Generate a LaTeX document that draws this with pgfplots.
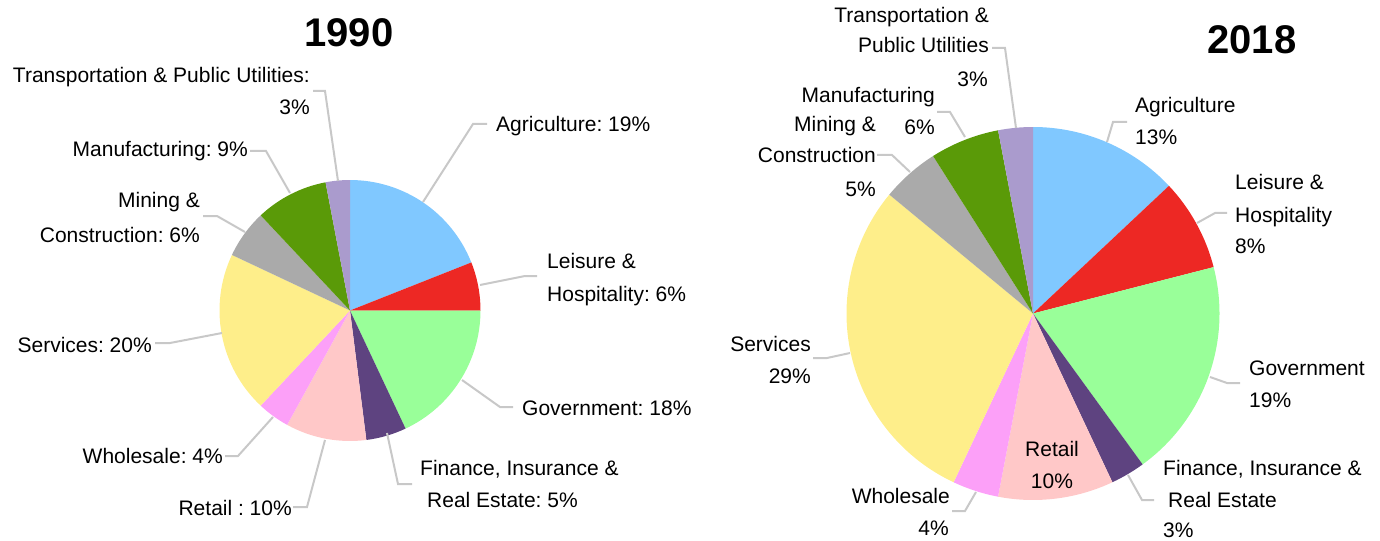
\documentclass[border=0pt]{standalone}
\usepackage{pgfplots}
\pgfplotsset{compat=1.18}
\usepackage{fontspec}
\setmainfont{Liberation Sans}
\frenchspacing

\definecolor{agri}{RGB}{128,200,255}
\definecolor{leis}{RGB}{237,40,36}
\definecolor{govt}{RGB}{153,255,153}
\definecolor{fire}{RGB}{94,67,128}
\definecolor{reta}{RGB}{255,200,200}
\definecolor{whol}{RGB}{252,160,248}
\definecolor{serv}{RGB}{254,238,138}
\definecolor{mine}{RGB}{170,170,170}
\definecolor{manu}{RGB}{90,154,8}
\definecolor{tpu}{RGB}{170,155,205}
\definecolor{lead}{RGB}{200,200,200}

% slices go clockwise from 12 o'clock; \slice{cx}{cy}{r}{percent}{colour}
\newcommand\resetpie{\gdef\piecum{0}}
\newcommand\slice[5]{%
  \pgfmathsetmacro\pa{90-3.6*\piecum}%
  \pgfmathsetmacro\pb{90-3.6*(\piecum+#4)}%
  \pgfmathsetmacro\pc{\piecum+#4}\global\let\piecum\pc
  \edef\tmp{\noexpand\fill[#5] (axis cs:#1,#2) -- +(\pa:#3bp)
    arc[start angle=\pa, end angle=\pb, radius=#3bp] -- cycle;}\tmp}
\newcommand\lbl{\fontsize{21bp}{25bp}\selectfont}

\begin{document}
\begin{tikzpicture}
\begin{axis}[width=1380bp, height=541bp, scale only axis,
  xmin=0, xmax=1380, ymin=0, ymax=541, y dir=reverse,
  hide axis, clip=false]
\path (axis cs:0,0) -- (axis cs:1380,541);

% 1990
\resetpie
\slice{350}{310.5}{130.5}{19}{agri}
\slice{350}{310.5}{130.5}{6}{leis}
\slice{350}{310.5}{130.5}{18}{govt}
\slice{350}{310.5}{130.5}{5}{fire}
\slice{350}{310.5}{130.5}{10}{reta}
\slice{350}{310.5}{130.5}{4}{whol}
\slice{350}{310.5}{130.5}{20}{serv}
\slice{350}{310.5}{130.5}{6}{mine}
\slice{350}{310.5}{130.5}{9}{manu}
\slice{350}{310.5}{130.5}{3}{tpu}

% 2018
\resetpie
\slice{1033}{313.5}{186.5}{13}{agri}
\slice{1033}{313.5}{186.5}{8}{leis}
\slice{1033}{313.5}{186.5}{19}{govt}
\slice{1033}{313.5}{186.5}{3}{fire}
\slice{1033}{313.5}{186.5}{10}{reta}
\slice{1033}{313.5}{186.5}{4}{whol}
\slice{1033}{313.5}{186.5}{29}{serv}
\slice{1033}{313.5}{186.5}{5}{mine}
\slice{1033}{313.5}{186.5}{6}{manu}
\slice{1033}{313.5}{186.5}{3}{tpu}

% titles
\node[anchor=base, font=\fontsize{40bp}{40bp}\selectfont\bfseries] at (axis cs:349,47) {1990};
\node[anchor=base, font=\fontsize{40bp}{40bp}\selectfont\bfseries] at (axis cs:1252,54) {2018};

% leader lines
\begin{scope}[draw=lead, line width=2bp]
\draw (axis cs:338,181) -- (axis cs:325,91) -- (axis cs:313,91);
\draw (axis cs:290,193) -- (axis cs:266,151) -- (axis cs:250,151);
\draw (axis cs:245,232) -- (axis cs:217,216) -- (axis cs:203,216);
\draw (axis cs:423,202) -- (axis cs:473,124) -- (axis cs:487,124);
\draw (axis cs:480,285) -- (axis cs:525,276) -- (axis cs:537,276);
\draw (axis cs:462,380) -- (axis cs:500,407) -- (axis cs:513,407);
\draw (axis cs:387,433) -- (axis cs:398,484) -- (axis cs:412,484);
\draw (axis cs:222,333) -- (axis cs:170,343) -- (axis cs:155,343);
\draw (axis cs:273,417) -- (axis cs:238,456) -- (axis cs:225,456);
\draw (axis cs:325,440) -- (axis cs:307,507) -- (axis cs:293,507);

\draw (axis cs:1016,128) -- (axis cs:1005,48) -- (axis cs:992,48);
\draw (axis cs:965,137) -- (axis cs:950,112) -- (axis cs:937,112);
\draw (axis cs:910,172) -- (axis cs:892,155) -- (axis cs:877,155);
\draw (axis cs:1107,142) -- (axis cs:1113,122) -- (axis cs:1127,122);
\draw (axis cs:1197,223) -- (axis cs:1215,213) -- (axis cs:1227,213);
\draw (axis cs:1210,377) -- (axis cs:1227,383) -- (axis cs:1240,383);
\draw (axis cs:1128,475) -- (axis cs:1142,500) -- (axis cs:1154,500);
\draw (axis cs:850,353) -- (axis cs:827,358) -- (axis cs:813,358);
\draw (axis cs:976,492) -- (axis cs:965,511) -- (axis cs:952,511);
\end{scope}

% labels 1990
\begin{scope}[every node/.style={font=\lbl, inner sep=0pt}]
\node[anchor=base east] at (axis cs:310,83) {Transportation \& Public Utilities:};
\node[anchor=base east] at (axis cs:310,115) {3\%};
\node[anchor=base east] at (axis cs:248,157) {Manufacturing: 9\%};
\node[anchor=base east] at (axis cs:200,208) {Mining \&};
\node[anchor=base east] at (axis cs:200,242) {Construction: 6\%};
\node[anchor=base west] at (axis cs:496,132) {Agriculture: 19\%};
\node[anchor=base west] at (axis cs:547,268) {Leisure \&};
\node[anchor=base west] at (axis cs:547,301) {Hospitality: 6\%};
\node[anchor=base west] at (axis cs:522,415) {Government: 18\%};
\node[anchor=base west] at (axis cs:420,475) {Finance, Insurance \&};
\node[anchor=base west] at (axis cs:427,507) {Real Estate: 5\%};
\node[anchor=base east] at (axis cs:152,352) {Services: 20\%};
\node[anchor=base east] at (axis cs:223,463) {Wholesale: 4\%};
\node[anchor=base east] at (axis cs:292,515) {Retail : 10\%};

% labels 2018
\node[anchor=base east] at (axis cs:989,23) {Transportation \&};
\node[anchor=base east] at (axis cs:989,53) {Public Utilities};
\node[anchor=base east] at (axis cs:988,87) {3\%};
\node[anchor=base east] at (axis cs:935,103) {Manufacturing};
\node[anchor=base east] at (axis cs:935,135) {6\%};
\node[anchor=base east] at (axis cs:876,132) {Mining \&};
\node[anchor=base east] at (axis cs:876,163) {Construction};
\node[anchor=base east] at (axis cs:876,197) {5\%};
\node[anchor=base west] at (axis cs:1135,113) {Agriculture};
\node[anchor=base west] at (axis cs:1135,145) {13\%};
\node[anchor=base west] at (axis cs:1235,190) {Leisure \&};
\node[anchor=base west] at (axis cs:1235,222) {Hospitality};
\node[anchor=base west] at (axis cs:1235,253) {8\%};
\node[anchor=base west] at (axis cs:1249,375) {Government};
\node[anchor=base west] at (axis cs:1249,407) {19\%};
\node[anchor=base west] at (axis cs:1163,475) {Finance, Insurance \&};
\node[anchor=base west] at (axis cs:1168,507) {Real Estate};
\node[anchor=base west] at (axis cs:1163,537) {3\%};
\node[anchor=base east] at (axis cs:811,351) {Services};
\node[anchor=base east] at (axis cs:811,383) {29\%};
\node[anchor=base east] at (axis cs:950,503) {Wholesale};
\node[anchor=base east] at (axis cs:949,535) {4\%};
\node[anchor=base] at (axis cs:1052,456) {Retail};
\node[anchor=base] at (axis cs:1052,488) {10\%};
\end{scope}
\end{axis}
\end{tikzpicture}
\end{document}
